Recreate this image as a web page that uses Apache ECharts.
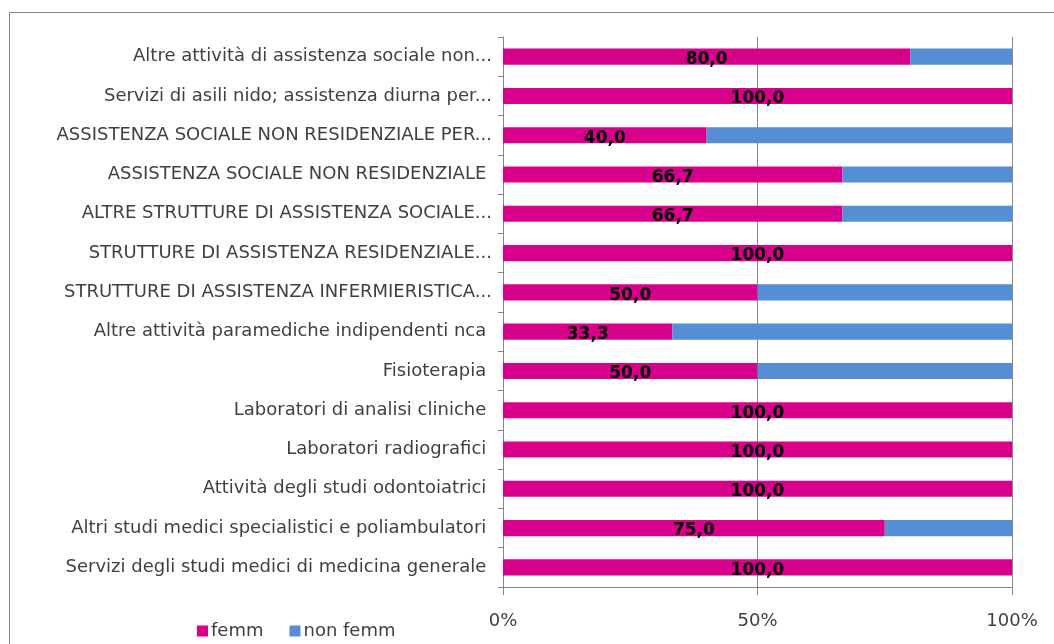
<!DOCTYPE html>
<html>
<head>
<meta charset="utf-8">
<script src="https://cdn.jsdelivr.net/npm/echarts@6/dist/echarts.min.js"></script>
<style>
  html, body { margin: 0; padding: 0; background: #fff; }
  #chart { width: 1054px; height: 644px; }
</style>
</head>
<body>
<div id="chart"></div>
<script>
// categorie, dall'alto verso il basso (alcune hanno lo spazio finale come nell'originale)
var categorie = [
  'Altre attività di assistenza sociale non...',
  'Servizi di asili nido; assistenza diurna per...',
  'ASSISTENZA SOCIALE NON RESIDENZIALE PER...',
  'ASSISTENZA SOCIALE NON RESIDENZIALE ',
  'ALTRE STRUTTURE DI ASSISTENZA SOCIALE...',
  'STRUTTURE DI ASSISTENZA RESIDENZIALE...',
  'STRUTTURE DI ASSISTENZA INFERMIERISTICA...',
  'Altre attività paramediche indipendenti nca ',
  'Fisioterapia ',
  'Laboratori di analisi cliniche ',
  'Laboratori radiografici ',
  'Attività degli studi odontoiatrici ',
  'Altri studi medici specialistici e poliambulatori ',
  'Servizi degli studi medici di medicina generale '
];
var femm = [80.0, 100.0, 40.0, 66.7, 66.7, 100.0, 50.0, 33.3, 50.0, 100.0, 100.0, 100.0, 75.0, 100.0];
var nonFemm = [20.0, 0, 60.0, 33.3, 33.3, 0, 50.0, 66.7, 50.0, 0, 0, 0, 25.0, 0];
var tickX = [0, 50, 100];

var fontFam = '"DejaVu Sans", "Open Sans", sans-serif';
var grigio = '#868686';

var chart = echarts.init(document.getElementById('chart'));
var option = {
  animation: false,
  textStyle: { fontFamily: fontFam },
  graphic: [{
    type: 'rect',
    shape: { x: 9.5, y: 12.5, width: 1100, height: 700 },
    style: { fill: 'none', stroke: grigio, lineWidth: 1 },
    silent: true
  }],
  legend: {
    left: 192,
    top: 617,
    icon: 'rect',
    itemWidth: 11,
    itemHeight: 11,
    itemGap: 26,
    itemStyle: { borderWidth: 0 },
    textStyle: { fontSize: 18, color: '#404040', fontFamily: fontFam, padding: [0, 0, 0, -2] },
    data: ['femm', 'non femm']
  },
  grid: { left: 503, right: 42, top: 37, bottom: 57 },
  xAxis: {
    type: 'value',
    min: tickX[0],
    max: tickX[tickX.length - 1],
    interval: tickX[1] - tickX[0],
    axisLine: { show: true, lineStyle: { color: grigio, width: 1 } },
    axisTick: { show: true, length: 8, lineStyle: { color: grigio } },
    splitLine: { show: true, lineStyle: { color: grigio, width: 1 } },
    axisLabel: {
      margin: 25,
      fontSize: 18,
      color: '#404040',
      formatter: '{value}%'
    }
  },
  yAxis: {
    type: 'category',
    inverse: true,
    data: categorie,
    axisLine: { show: true, lineStyle: { color: grigio } },
    axisTick: { show: true, length: 5, lineStyle: { color: grigio } },
    axisLabel: { margin: 11, fontSize: 18, color: '#404040' }
  },
  series: [{
    name: 'femm',
    type: 'bar',
    stack: 'tot',
    data: femm,
    barCategoryGap: '59%',
    itemStyle: { color: '#D6008B' },
    label: {
      show: true,
      position: 'inside',
      offset: [0, 3],
      color: '#000',
      fontSize: 17,
      fontWeight: 'bold',
      formatter: function (p) { return p.value.toFixed(1).replace('.', ','); }
    }
  }, {
    name: 'non femm',
    type: 'bar',
    stack: 'tot',
    data: nonFemm,
    itemStyle: { color: '#558ED5' }
  }]
};
chart.setOption(option);
</script>
</body>
</html>
